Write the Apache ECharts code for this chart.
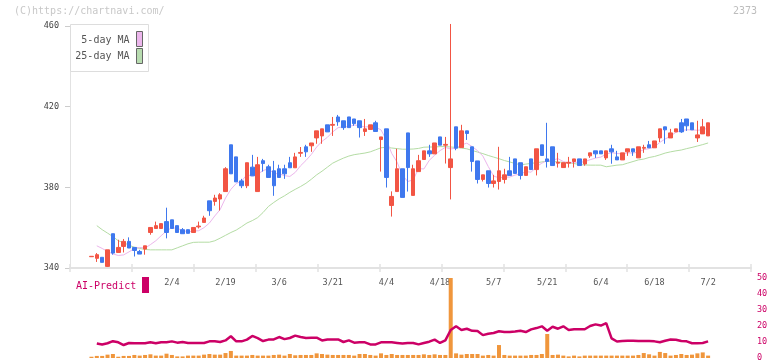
<!DOCTYPE html>
<html><head><meta charset="utf-8">
<script src="https://cdn.jsdelivr.net/npm/echarts/dist/echarts.min.js"></script>
<style>html,body{margin:0;padding:0;background:#fff}#c{width:772px;height:361px}</style>
</head><body><div id="c"></div>
<script>
const dates = ['1/14','1/15','1/16','1/17','1/20','1/21','1/22','1/23','1/24','1/27','1/28','1/29','1/30','1/31',
'2/3','2/4','2/5','2/6','2/7','2/10','2/12','2/13','2/14','2/17','2/18','2/19','2/20','2/21','2/25','2/26','2/27','2/28',
'3/3','3/4','3/5','3/6','3/7','3/10','3/11','3/12','3/13','3/14','3/17','3/18','3/19','3/21','3/24','3/25','3/26','3/27','3/28','3/31',
'4/1','4/2','4/3','4/4','4/7','4/8','4/9','4/10','4/11','4/14','4/15','4/16','4/17','4/18','4/21','4/22','4/23','4/24','4/25','4/28','4/30',
'5/1','5/2','5/7','5/8','5/9','5/12','5/13','5/14','5/15','5/16','5/19','5/20','5/21','5/22','5/23','5/26','5/27','5/28','5/29','5/30',
'6/2','6/3','6/4','6/5','6/6','6/9','6/10','6/11','6/12','6/13','6/16','6/17','6/18','6/19','6/20','6/23','6/24','6/25','6/26','6/27','6/30',
'7/1','7/2'];
const tickLabels = ['2/4','2/19','3/6','3/21','4/4','4/18','5/7','5/21','6/4','6/18','7/2'];
const opens = [345.6,344.8,345.3,340.8,357.0,347.7,350.7,353.2,350.2,348.2,349.4,357.6,359.6,359.6,363.0,363.9,361.0,359.0,359.0,357.6,
360.4,362.6,373.3,373.0,374.2,377.9,401.1,395.1,383.2,380.8,390.0,377.9,393.2,390.2,388.2,389.2,389.2,392.2,389.7,396.9,
400.1,400.6,404.5,405.5,411.0,410.8,414.9,413.0,414.9,413.9,413.0,407.7,408.7,412.0,403.7,409.0,371.0,377.9,389.2,407.0,
376.0,387.8,393.8,398.1,396.6,405.0,400.9,389.8,410.0,399.7,408.0,400.1,393.1,383.9,388.2,381.9,382.9,383.9,388.2,394.1,
392.2,385.9,394.1,388.8,401.1,394.1,400.1,392.0,389.8,392.0,392.8,394.1,391.6,395.6,398.1,398.1,394.6,399.1,395.1,393.6,
397.6,399.1,394.6,399.4,401.1,399.6,404.5,410.0,404.5,407.5,412.0,413.9,412.0,404.5,406.5,405.5];
const closes = [345.8,346.6,342.8,349.0,347.4,350.2,353.2,349.9,348.7,346.9,351.0,360.1,361.0,362.0,357.6,359.6,357.6,357.0,357.2,360.1,
360.8,364.8,368.4,374.7,376.3,389.2,386.7,382.7,380.8,392.2,385.7,391.2,391.8,384.9,380.8,384.9,386.7,389.7,395.1,397.3,
397.6,402.0,408.0,409.0,407.5,411.2,412.5,409.6,409.6,411.6,409.6,409.0,411.0,407.7,405.0,384.9,375.5,389.2,375.0,389.8,
389.2,393.2,398.1,396.6,402.0,400.9,401.3,394.1,399.4,408.0,406.7,392.8,383.9,386.2,381.9,383.2,388.2,386.2,385.9,386.9,
385.9,390.2,388.8,399.1,395.8,392.8,390.8,392.4,392.2,392.4,394.1,390.8,394.1,397.1,396.6,396.6,398.1,397.6,393.6,397.1,
399.1,397.6,400.1,399.8,399.6,403.0,409.0,408.5,407.0,409.0,407.5,410.5,408.5,406.0,410.0,412.0];
const lows = [345.6,343.0,342.8,340.5,346.6,347.7,347.7,349.9,345.7,346.9,346.6,356.5,359.6,359.6,354.7,359.6,357.6,357.0,357.2,357.6,
359.6,362.6,365.9,370.9,368.5,377.9,386.7,382.7,379.6,379.6,385.7,377.9,387.8,384.9,375.8,384.9,384.2,389.7,389.7,395.1,
395.1,397.6,401.6,401.6,407.5,405.5,410.5,408.5,409.6,410.5,404.7,405.5,408.7,407.7,387.8,379.9,365.5,377.9,375.0,377.9,
376.0,387.8,393.8,395.1,396.6,400.9,391.8,374.0,398.4,399.7,403.5,387.8,381.9,382.9,379.9,379.9,378.9,381.9,385.9,386.9,
383.9,385.9,388.8,385.9,395.8,389.8,390.8,389.8,389.8,389.8,389.8,390.8,390.7,394.6,394.6,396.6,393.6,391.7,393.6,393.6,
395.6,395.6,394.6,397.1,399.6,399.6,402.5,401.6,404.5,407.5,407.0,408.0,408.5,402.5,406.5,405.5];
const highs = [345.8,347.4,345.3,349.0,357.0,354.0,354.4,355.2,350.2,349.0,351.0,360.1,363.0,362.0,369.9,363.9,361.0,359.8,359.0,360.1,
363.0,365.9,373.3,376.3,377.1,390.0,401.1,395.1,384.2,392.2,396.1,395.1,394.1,391.2,393.1,391.2,391.2,395.1,397.1,400.0,
401.1,402.0,408.0,409.0,411.0,414.9,415.9,413.0,414.9,413.9,413.0,413.9,411.0,413.0,405.0,409.0,378.0,399.1,389.2,407.0,
391.2,396.1,398.1,401.1,402.0,405.0,405.0,461.0,410.0,411.0,408.0,400.1,393.1,386.2,388.2,386.2,400.1,389.2,395.1,394.1,
392.2,390.2,394.1,399.1,401.1,412.0,400.1,397.1,392.2,395.1,394.1,394.1,394.1,397.1,398.1,398.1,398.1,401.1,398.1,397.1,
399.1,399.1,400.1,401.1,403.0,403.0,409.0,410.0,409.0,409.0,413.9,413.9,412.0,413.0,413.9,412.0];
const ma5 = ['-',351.0,349.7,348.2,347.0,346.2,346.5,348.0,349.6,350.2,349.9,351.6,353.5,356.0,358.4,360.0,359.6,358.7,357.9,358.3,
358.5,360.0,362.3,365.8,369.0,374.7,379.0,381.9,383.1,386.3,385.6,386.5,388.3,389.2,386.9,386.7,385.8,385.4,387.4,390.7,
393.3,396.3,400.0,402.8,404.8,407.5,409.6,410.0,410.1,410.9,410.6,409.9,410.2,409.8,408.5,403.5,396.8,392.5,385.9,382.9,
383.7,389.3,389.1,393.4,395.9,398.2,399.8,399.0,399.5,401.0,401.9,400.2,398.2,395.5,390.3,385.6,384.7,385.1,385.1,386.1,
386.6,387.8,387.5,390.2,392.0,393.3,393.5,394.2,392.8,392.1,392.4,392.4,392.7,393.7,394.5,395.0,396.5,397.2,396.8,396.6,
397.1,397.0,397.5,398.7,399.2,400.0,402.3,404.0,405.4,407.3,408.2,408.5,408.5,408.3,408.5,409.4];
const ma25 = ['-',361.0,359.0,357.3,355.6,353.5,352.6,351.3,350.3,349.7,349.2,349.0,349.0,349.0,349.0,349.0,350.0,351.0,352.0,352.7,
352.8,352.8,352.8,353.5,354.8,356.2,357.6,358.8,360.5,362.3,363.5,365.0,367.5,370.5,372.5,374.3,375.8,377.5,379.0,380.4,
382.0,384.0,386.2,388.0,390.0,392.0,393.3,394.5,395.5,396.2,396.6,397.0,397.6,398.6,399.6,399.9,399.5,399.2,398.9,398.9,
399.0,399.3,399.9,400.0,400.0,400.2,400.2,400.0,399.8,399.5,399.1,398.3,397.5,396.7,395.8,395.0,394.2,393.3,392.6,391.8,
391.2,391.5,391.9,392.2,392.6,393.0,392.8,392.6,392.4,392.2,391.8,391.3,391.1,391.0,391.0,391.0,390.2,390.6,391.0,391.2,
392.0,392.8,393.6,394.0,394.8,395.3,396.1,397.0,397.6,398.1,398.5,399.2,399.8,400.5,401.2,402.0];
const aiPredict = ['-',9.0,8.4,9.2,10.5,9.8,8.1,9.4,9.2,9.2,9.2,9.8,9.2,9.8,9.8,10.4,9.6,10.0,9.4,9.4,
9.4,9.4,10.4,10.4,10.0,11.0,13.6,10.4,10.4,11.5,13.8,12.4,10.6,11.5,11.6,13.1,11.8,12.5,14.0,13.1,
12.5,12.7,12.7,11.0,11.6,11.6,11.6,10.0,11.0,9.6,9.8,9.8,8.5,8.5,9.8,9.8,9.8,9.4,9.0,9.4,
9.4,8.5,9.4,10.2,11.5,9.4,11.0,17.5,19.8,17.5,18.3,17.0,16.9,14.3,15.2,15.6,16.7,16.2,16.2,16.5,
17.0,16.2,17.9,18.7,19.8,17.0,19.5,18.3,19.8,17.5,18.0,18.0,18.0,20.0,21.0,20.3,21.8,12.3,10.3,10.6,
10.8,10.8,10.6,10.6,10.6,10.4,9.8,10.8,11.6,11.4,10.6,10.4,9.2,9.2,9.4,10.4];
const volume = [0.8,1.3,1.3,2.1,2.5,0.8,1.3,1.3,1.9,1.5,1.9,2.3,1.5,1.5,2.7,1.9,1.0,1.0,1.5,1.5,
1.5,2.1,2.5,2.1,2.1,3.1,4.4,1.5,1.5,1.5,1.9,1.5,1.5,1.5,1.9,2.1,1.5,2.5,1.7,1.9,
1.9,1.9,2.9,2.5,2.1,1.9,1.9,1.9,1.9,1.5,2.5,2.5,1.9,1.5,2.9,1.9,2.5,1.9,1.9,1.9,
1.9,1.9,2.3,1.9,2.3,1.9,1.9,50,2.9,2.1,2.5,2.5,2.5,1.5,1.9,1.5,8.1,1.9,1.5,1.5,
1.5,1.5,1.9,1.9,2.5,15,1.9,2.1,1.5,1.0,1.5,1.0,1.5,1.5,1.5,1.5,1.5,1.5,1.5,1.5,
1.5,1.5,1.9,3.1,2.3,1.5,3.8,3.1,1.5,1.9,2.5,1.9,2.1,2.9,3.5,1.5];
const PAD_L = 4, PAD_R = 8;

const cats = [];
for (let i = 0; i < PAD_L; i++) cats.push('');
dates.forEach(d => cats.push(d));
for (let i = 0; i < PAD_R; i++) cats.push('');
const tickSet = new Set(tickLabels);
const candleData = dates.map((d, i) => [i + PAD_L, opens[i], closes[i], lows[i], highs[i]]);
const pair = arr => arr.map((v, i) => [i + PAD_L, v]);

const MONO = '"DejaVu Sans Mono", monospace';
const RED = '#f25544', BLUE = '#3f78ee';
const chart = echarts.init(document.getElementById('c'), null, {renderer: 'canvas'});
chart.setOption({
  animation: false,
  backgroundColor: '#fff',
  grid: [
    {left: 70, right: 21, top: 26, height: 242, outerBoundsMode: 'none'},
    {left: 70, right: 21, top: 278, height: 80, outerBoundsMode: 'none'}
  ],
  xAxis: [
    {type: 'category', gridIndex: 0, data: cats, boundaryGap: false,
     axisLine: {show: false}, axisTick: {show: false}, splitLine: {show: false},
     axisLabel: {interval: 0, margin: 10, color: '#555', fontSize: 8.5, fontFamily: MONO,
       formatter: v => tickSet.has(v) ? v : ''}},
    {type: 'value', gridIndex: 0, min: 0, max: 11, interval: 1, position: 'bottom',
     axisLine: {show: true, lineStyle: {color: '#e2e2e2', width: 2}},
     axisTick: {show: true, length: 4, lineStyle: {color: '#e2e2e2', width: 1.5}},
     axisLabel: {show: false}, splitLine: {show: false}},
    {type: 'value', gridIndex: 0, min: 0, max: 11, interval: 1, position: 'bottom',
     axisLine: {show: false},
     axisTick: {show: true, inside: true, length: 4, lineStyle: {color: '#e2e2e2', width: 1.5}},
     axisLabel: {show: false}, splitLine: {show: false}},
    {type: 'category', gridIndex: 1, data: cats, boundaryGap: false, show: false}
  ],
  yAxis: [
    {type: 'value', gridIndex: 0, min: 340, max: 460, interval: 40, scale: true,
     axisLine: {show: true, lineStyle: {color: '#e2e2e2', width: 1}},
     axisTick: {show: true, length: 5, lineStyle: {color: '#cccccc'}},
     axisLabel: {color: '#444', fontSize: 8.5, fontFamily: MONO, margin: 11},
     splitLine: {show: false}},
    {type: 'value', gridIndex: 1, position: 'right', min: 0, max: 50, interval: 10,
     axisLine: {show: false}, axisTick: {show: false}, splitLine: {show: false},
     axisLabel: {color: '#cc0066', fontSize: 8.5, fontFamily: MONO, margin: 6}}
  ],
  series: [
    {type: 'line', xAxisIndex: 0, yAxisIndex: 0, data: pair(ma25), showSymbol: false,
     lineStyle: {color: '#b4dca4', width: 1}, z: 2},
    {type: 'line', xAxisIndex: 0, yAxisIndex: 0, data: pair(ma5), showSymbol: false,
     lineStyle: {color: '#ecb6ec', width: 1}, z: 2},
    {type: 'candlestick', xAxisIndex: 0, yAxisIndex: 0, data: candleData, barWidth: 4,
     encode: {x: 0, y: [1, 2, 3, 4]},
     itemStyle: {color: RED, color0: BLUE, borderColor: RED, borderColor0: BLUE, borderWidth: 1}, z: 3},
    {type: 'bar', xAxisIndex: 3, yAxisIndex: 1, data: pair(volume), barWidth: 4,
     itemStyle: {color: '#f0963c'}, z: 2},
    {type: 'line', xAxisIndex: 3, yAxisIndex: 1, data: pair(aiPredict), showSymbol: false,
     lineStyle: {color: '#cc0066', width: 2.5}, z: 3}
  ],
  graphic: [
    {type: 'text', left: 14, top: 6, style: {text: '(C)https://chartnavi.com/', fill: '#c8c8c8', font: '10px ' + MONO}},
    {type: 'text', right: 15, top: 6, style: {text: '2373', fill: '#bdbdbd', font: '10px ' + MONO}},
    {type: 'rect', shape: {x: 70.5, y: 24.5, width: 78, height: 47}, style: {fill: '#fff', stroke: '#dddddd', lineWidth: 1}, z: 10},
    {type: 'text', x: 129.5, y: 40.5, style: {text: '5-day MA', fill: '#555', font: '10px ' + MONO, textAlign: 'right', textVerticalAlign: 'middle'}, z: 11},
    {type: 'text', x: 129.5, y: 56.5, style: {text: '25-day MA', fill: '#555', font: '10px ' + MONO, textAlign: 'right', textVerticalAlign: 'middle'}, z: 11},
    {type: 'rect', shape: {x: 136.5, y: 31.5, width: 6, height: 15}, style: {fill: '#ecb6ec', stroke: '#666', lineWidth: 1}, z: 11},
    {type: 'rect', shape: {x: 136.5, y: 48.5, width: 6, height: 15}, style: {fill: '#b8dcb0', stroke: '#666', lineWidth: 1}, z: 11},
    {type: 'text', x: 76, y: 286, style: {text: 'AI-Predict', fill: '#cc0066', font: '10px ' + MONO, textVerticalAlign: 'middle'}, z: 11},
    {type: 'rect', shape: {x: 142, y: 277, width: 7, height: 16}, style: {fill: '#cc0066'}, z: 11}
  ]
});
</script></body></html>
